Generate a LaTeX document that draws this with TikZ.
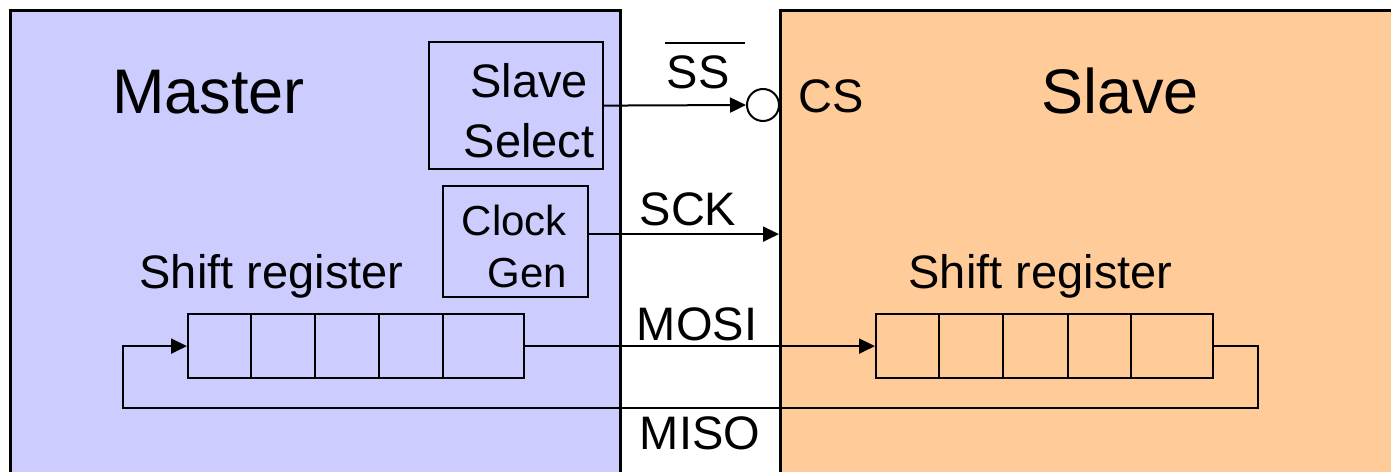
\documentclass[tikz,border=0pt]{standalone}
\usepackage{fontspec}
\setmainfont{Liberation Sans}
\usetikzlibrary{arrows.meta,calc}
\definecolor{mastercol}{HTML}{CCCCFF}
\definecolor{slavecol}{HTML}{FFCC99}
\begin{document}
\begin{tikzpicture}[x=1pt,y=-1pt,
  big/.style={font=\fontsize{63}{70}\selectfont, inner sep=0pt, anchor=base},
  lab/.style={font=\fontsize{47}{56}\selectfont, inner sep=0pt, anchor=base},
  region/.style={draw, line width=2.6pt, rectangle, inner sep=0pt, anchor=north west},
  blk/.style={draw, line width=2.2pt, rectangle, inner sep=0pt, anchor=north west},
  conn/.style={line width=2pt, -{Triangle[length=16pt,width=15pt]}},
  wire/.style={line width=2pt},
]
\useasboundingbox (0,0) rectangle (1391,471);
\clip (0,0) rectangle (1391,471);
% regions
\node[region, fill=mastercol, minimum width=610pt, minimum height=490pt] (master) at (9,9) {};
\node[region, fill=slavecol, minimum width=625pt, minimum height=490pt] (slave) at (779,9) {};
% titles
\node[big] (mtitle) at (208.5,113) {Master};
\node[big] (stitle) at (1120,113) {Slave};
% slave select block
\node[blk, minimum width=174pt, minimum height=127pt] (ssbox) at (428,41) {};
\node[font=\fontsize{47}{60}\selectfont, inner sep=0pt, align=center, anchor=base] (sstext) at (529,157) {Slave\\Select};
% clock gen block
\node[blk, minimum width=145pt, minimum height=111pt] (ckbox) at (442,185) {};
\node[font=\fontsize{42}{52}\selectfont, inner sep=0pt, align=right, anchor=base east] (cktext) at (567,287) {Clock\\Gen};
% shift registers
\node[lab] (mregtext) at (271.5,288) {Shift register};
\node[lab] (sregtext) at (1040.5,288) {Shift register};
\node[blk, minimum width=336pt, minimum height=64pt] (mreg) at (187,313) {};
\node[blk, minimum width=337pt, minimum height=64pt] (sreg) at (875,313) {};
\foreach \x in {251,315,379,443} \draw[line width=2.2pt] (\x,313) -- (\x,377);
\foreach \x in {939,1003,1068,1131} \draw[line width=2.2pt] (\x,313) -- (\x,377);
% chip select circle
\node[circle, draw, fill=white, line width=2pt, minimum size=32pt, inner sep=0pt] (cs) at (763,105) {};
% signal labels
\node[lab] (sslab) at (698,88) {SS};
\draw[wire] ($(sslab.north west)+(-1,-12)$) -- ++(80,0);
\node[lab] (cslab) at (831,112) {CS};
\node[lab] (scklab) at (688,225) {SCK};
\node[lab] (mosilab) at (697,340) {MOSI};
\node[lab] (misolab) at (700,449) {MISO};
% connectors
\draw[conn] (ssbox.east) -- (cs.west);
\draw[conn] ([yshift=7.5pt]ckbox.east) -- ([yshift=7.5pt]ckbox.east -| slave.west);
\draw[conn] (mreg.east) -- (sreg.west);
\coordinate (lr) at (1258,408);
\coordinate (ll) at (123,408);
\draw[conn] (sreg.east) -| (lr) -- (ll) |- (mreg.west);
\end{tikzpicture}
\end{document}
